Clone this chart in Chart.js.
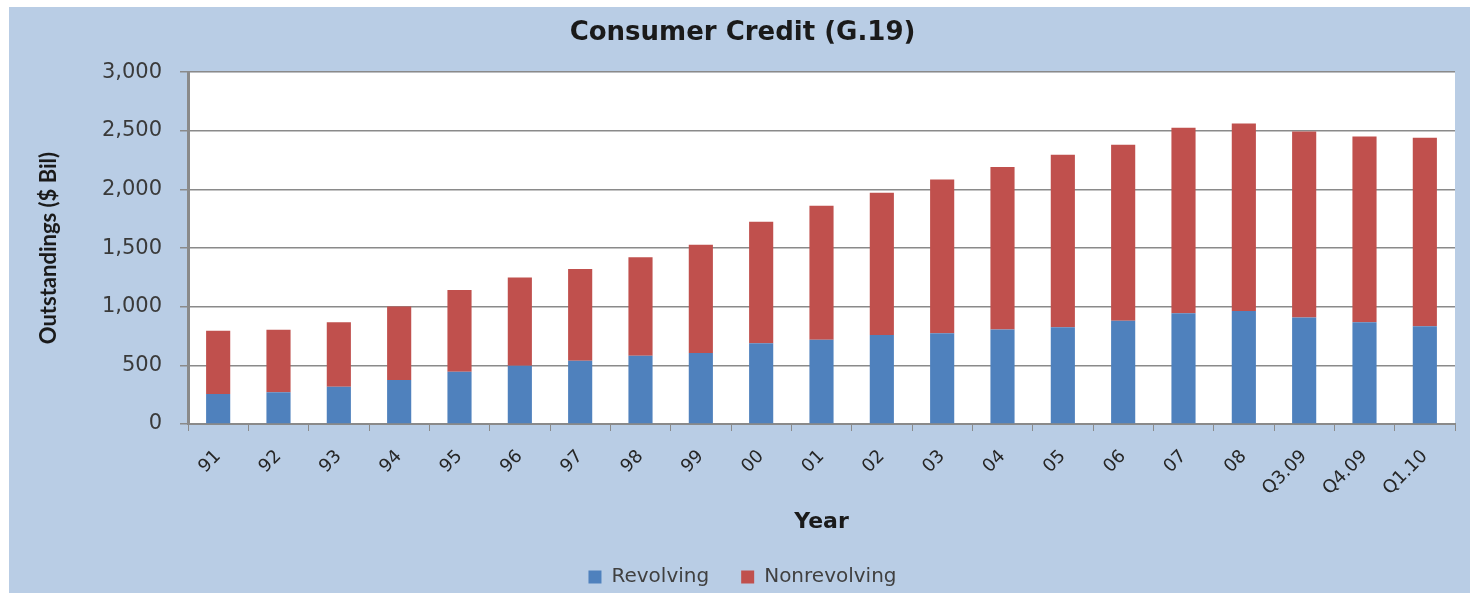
<!DOCTYPE html>
<html>
<head>
<meta charset="utf-8">
<script src="https://cdn.jsdelivr.net/npm/chart.js@4/dist/chart.umd.min.js"></script>
<style>
  html, body { margin: 0; padding: 0; background: #ffffff; overflow: hidden; }
  #wrap { width: 1470px; height: 593px; }
  canvas { display: block; }
</style>
</head>
<body>
<div id="wrap"><canvas id="chart" width="1470" height="593"></canvas></div>
<script>
// Consumer credit outstandings, $ billions
const categories = ['91', '92', '93', '94', '95', '96', '97', '98', '99', '00', '01',
                    '02', '03', '04', '05', '06', '07', '08', 'Q3.09', 'Q4.09', 'Q1.10'];
const revolving = [256, 270, 318, 375, 446, 497, 540, 582, 605, 688, 719,
                   759, 773, 805, 824, 881, 944, 963, 909, 867, 833];
const nonrevolving = [539, 534, 549, 628, 696, 753, 781, 839, 924, 1037, 1142,
                      1213, 1313, 1386, 1472, 1500, 1582, 1600, 1586, 1585, 1608];
const yTicks = [0, 500, 1000, 1500, 2000, 2500, 3000];

const FRAME = '#b9cde5';
const AXIS_GRAY = '#8a8a8a';

// Light blue frame inset from the page edge, with a white plot area
const framePlugin = {
  id: 'frame',
  beforeDraw(chart) {
    const { ctx, width, height, chartArea } = chart;
    ctx.save();
    ctx.fillStyle = '#ffffff';
    ctx.fillRect(0, 0, width, height);
    ctx.fillStyle = FRAME;
    ctx.fillRect(9, 7, width - 9, height - 7);
    ctx.fillStyle = '#ffffff';
    ctx.fillRect(chartArea.left, chartArea.top, chartArea.right - chartArea.left, chartArea.bottom - chartArea.top);
    ctx.restore();
  }
};

new Chart(document.getElementById('chart'), {
  type: 'bar',
  data: {
    labels: categories,
    datasets: [
      { label: 'Revolving', data: revolving, backgroundColor: '#4f81bd',
        barPercentage: 0.4, categoryPercentage: 1.0 },
      { label: 'Nonrevolving', data: nonrevolving, backgroundColor: '#c0504d',
        barPercentage: 0.4, categoryPercentage: 1.0 }
    ]
  },
  options: {
    responsive: false,
    animation: false,
    devicePixelRatio: 1,
    layout: { padding: { left: 30, right: 15, top: 7, bottom: -4 } },
    plugins: {
      title: {
        display: true,
        text: 'Consumer Credit (G.19)',
        color: '#1a1a1a',
        font: { family: 'DejaVu Sans', size: 26, weight: 'bold' },
        padding: { top: 11, bottom: 23 }
      },
      legend: {
        position: 'bottom',
        labels: {
          color: '#404040',
          font: { family: 'DejaVu Sans', size: 20 },
          boxWidth: 13,
          boxHeight: 13,
          padding: 32
        }
      },
      tooltip: { enabled: false }
    },
    scales: {
      x: {
        stacked: true,
        afterFit(scale) { scale.height = 111; },
        grid: { display: true, drawOnChartArea: false, drawTicks: true, tickLength: 7, color: AXIS_GRAY, offset: true },
        border: { display: true, color: AXIS_GRAY, width: 2 },
        ticks: { color: '#262626', font: { family: 'DejaVu Sans', size: 18 }, minRotation: 45, maxRotation: 45, padding: 15 },
        title: {
          display: true,
          text: 'Year',
          color: '#1a1a1a',
          font: { family: 'DejaVu Sans', size: 22, weight: 'bold' },
          padding: { top: 4, bottom: 0 }
        }
      },
      y: {
        stacked: true,
        min: 0,
        max: 3000,
        afterBuildTicks(scale) { scale.ticks = yTicks.map(v => ({ value: v })); },
        afterFit(scale) { scale.width = 188 - 30; },
        grid: { color: AXIS_GRAY, lineWidth: 1.5, tickLength: 8 },
        border: { display: true, color: AXIS_GRAY, width: 3 },
        ticks: {
          color: '#3a3a3a',
          font: { family: 'DejaVu Sans', size: 21 },
          padding: 18,
          callback: v => Number(v).toLocaleString('en-US')
        },
        title: {
          display: true,
          text: 'Outstandings ($ Bil)',
          color: '#1a1a1a',
          font: { family: 'Lato', size: 22, weight: 'bold' },
          padding: { top: 6, bottom: 0 }
        }
      }
    }
  },
  plugins: [framePlugin]
});
</script>
</body>
</html>
